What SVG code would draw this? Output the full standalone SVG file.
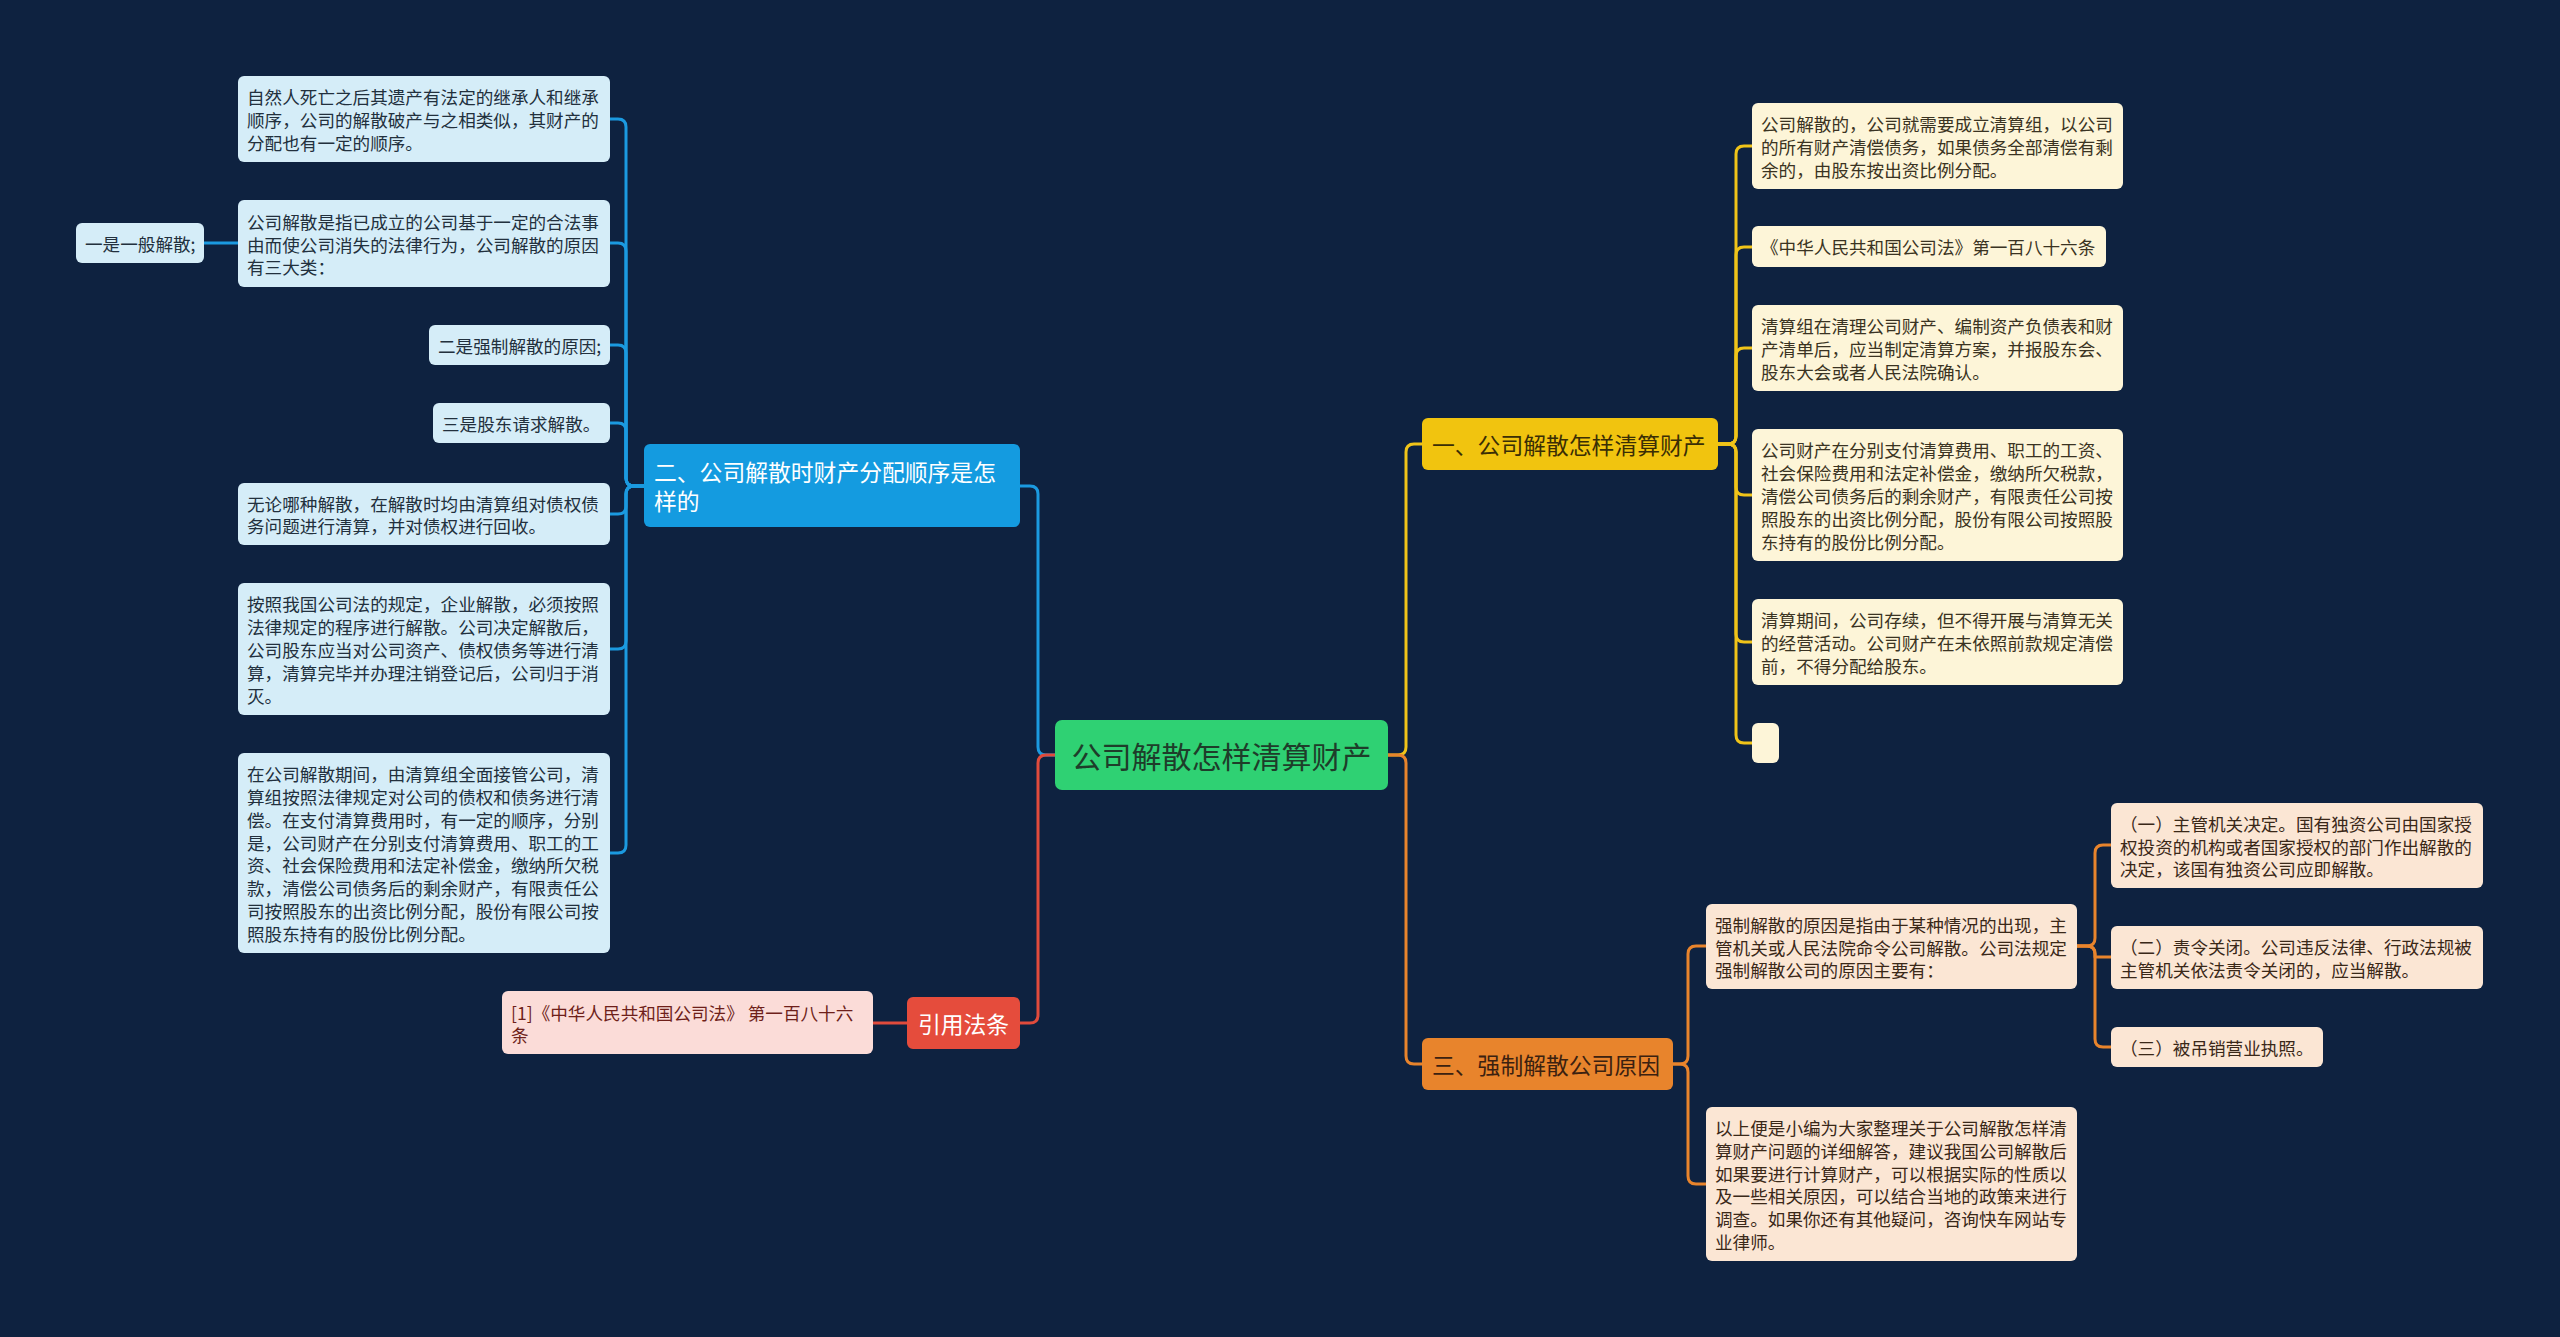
<svg xmlns="http://www.w3.org/2000/svg" width="2560" height="1337" viewBox="0 0 2560 1337">
<style>
text{font-family:"Noto Sans CJK SC","Noto Sans",sans-serif;dominant-baseline:central}
.t{font-size:17.6px}
.h{font-size:22.8px}
.c{fill:none;stroke-width:3;stroke-linecap:round;stroke-linejoin:round}
.cb{stroke:#1b9ae0}.cy{stroke:#f0c419}.co{stroke:#e8842c}.cr{stroke:#e04b3c}
.lb{fill:#d5edf8}.tb{fill:#22303d}
.ly{fill:#fdf5d8}.ty{fill:#3a3322}
.lo{fill:#fbe6d4}.to{fill:#3a2818}
.lr{fill:#fbdcd8}.tr{fill:#6e1f1a}
</style>
<rect width="2560" height="1337" fill="#0e2240"/>
<g id="connectors">
<path class="c cb" d="M1055 755H1046Q1038 755 1038 747V494Q1038 486 1030 486H1020"/>
<path class="c cr" d="M1055 755H1046Q1038 755 1038 763V1015Q1038 1023 1030 1023H1020"/>
<path class="c cy" d="M1388 755H1398Q1406 755 1406 747V452Q1406 444 1414 444H1422"/>
<path class="c co" d="M1388 755H1398Q1406 755 1406 763V1056Q1406 1064 1414 1064H1422"/>
<path class="c cr" d="M907 1023H873"/>
<path class="c cb" d="M644 486H634Q626 486 626 478V127Q626 119 618 119H610"/>
<path class="c cb" d="M644 486H634Q626 486 626 478V251Q626 243 618 243H610"/>
<path class="c cb" d="M238 243H204"/>
<path class="c cb" d="M644 486H634Q626 486 626 478V353Q626 345 618 345H610"/>
<path class="c cb" d="M644 486H634Q626 486 626 478V431Q626 423 618 423H610"/>
<path class="c cb" d="M644 486H634Q626 486 626 494V506Q626 514 618 514H610"/>
<path class="c cb" d="M644 486H634Q626 486 626 494V641Q626 649 618 649H610"/>
<path class="c cb" d="M644 486H634Q626 486 626 494V845Q626 853 618 853H610"/>
<path class="c cy" d="M1718 444H1728Q1736 444 1736 436V154Q1736 146 1744 146H1752"/>
<path class="c cy" d="M1718 444H1728Q1736 444 1736 436V255Q1736 247 1744 247H1752"/>
<path class="c cy" d="M1718 444H1728Q1736 444 1736 436V356Q1736 348 1744 348H1752"/>
<path class="c cy" d="M1718 444H1728Q1736 444 1736 452V487Q1736 495 1744 495H1752"/>
<path class="c cy" d="M1718 444H1728Q1736 444 1736 452V634Q1736 642 1744 642H1752"/>
<path class="c cy" d="M1718 444H1728Q1736 444 1736 452V735Q1736 743 1744 743H1752"/>
<path class="c co" d="M1673 1064H1680Q1688 1064 1688 1056V954Q1688 946 1696 946H1706"/>
<path class="c co" d="M1673 1064H1680Q1688 1064 1688 1072V1176Q1688 1184 1696 1184H1706"/>
<path class="c co" d="M2077 946H2087Q2095 946 2095 938V853Q2095 845 2103 845H2111"/>
<path class="c co" d="M2077 946H2087Q2095 946 2095 954V957Q2095 957 2103 957H2111"/>
<path class="c co" d="M2077 946H2087Q2095 946 2095 954V1039Q2095 1047 2103 1047H2111"/>
</g>
<g id="root">
<rect x="1055" y="720" width="333" height="70" rx="7" fill="#2fd173"/>
<text x="1221.5" y="755" text-anchor="middle" font-size="30" fill="#1e3d2a">公司解散怎样清算财产</text>
</g>
<g id="branch-blue">
<rect x="644" y="444" width="376" height="83" rx="6" fill="#149be0"/>
<text class="h" x="654" y="471" fill="#ffffff">二、公司解散时财产分配顺序是怎</text>
<text class="h" x="654" y="500" fill="#ffffff">样的</text>
</g>
<g id="leaf-b1">
<rect class="lb" x="238" y="76" width="372" height="86" rx="6"/>
<text class="t tb" x="247"><tspan x="247" y="96.2">自然人死亡之后其遗产有法定的继承人和继承</tspan><tspan x="247" y="119">顺序，公司的解散破产与之相类似，其财产的</tspan><tspan x="247" y="141.8">分配也有一定的顺序。</tspan></text>
</g>
<g id="leaf-b2">
<rect class="lb" x="238" y="200" width="372" height="87" rx="6"/>
<text class="t tb"><tspan x="247" y="220.7">公司解散是指已成立的公司基于一定的合法事</tspan><tspan x="247" y="243.5">由而使公司消失的法律行为，公司解散的原因</tspan><tspan x="247" y="266.3">有三大类：</tspan></text>
</g>
<g id="leaf-b0">
<rect class="lb" x="76" y="223" width="128" height="40" rx="6"/>
<text class="t tb" x="85" y="243">一是一般解散;</text>
</g>
<g id="leaf-b3">
<rect class="lb" x="429" y="325" width="181" height="40" rx="6"/>
<text class="t tb" x="438" y="345">二是强制解散的原因;</text>
</g>
<g id="leaf-b4">
<rect class="lb" x="433" y="403" width="177" height="40" rx="6"/>
<text class="t tb" x="442" y="423">三是股东请求解散。</text>
</g>
<g id="leaf-b5">
<rect class="lb" x="238" y="483" width="372" height="62" rx="6"/>
<text class="t tb"><tspan x="247" y="502.6">无论哪种解散，在解散时均由清算组对债权债</tspan><tspan x="247" y="525.4">务问题进行清算，并对债权进行回收。</tspan></text>
</g>
<g id="leaf-b6">
<rect class="lb" x="238" y="583" width="372" height="132" rx="6"/>
<text class="t tb"><tspan x="247" y="603.4">按照我国公司法的规定，企业解散，必须按照</tspan><tspan x="247" y="626.2">法律规定的程序进行解散。公司决定解散后，</tspan><tspan x="247" y="649">公司股东应当对公司资产、债权债务等进行清</tspan><tspan x="247" y="671.8">算，清算完毕并办理注销登记后，公司归于消</tspan><tspan x="247" y="694.6">灭。</tspan></text>
</g>
<g id="leaf-b7">
<rect class="lb" x="238" y="753" width="372" height="200" rx="6"/>
<text class="t tb"><tspan x="247" y="773.2">在公司解散期间，由清算组全面接管公司，清</tspan><tspan x="247" y="796">算组按照法律规定对公司的债权和债务进行清</tspan><tspan x="247" y="818.8">偿。在支付清算费用时，有一定的顺序，分别</tspan><tspan x="247" y="841.6">是，公司财产在分别支付清算费用、职工的工</tspan><tspan x="247" y="864.4">资、社会保险费用和法定补偿金，缴纳所欠税</tspan><tspan x="247" y="887.2">款，清偿公司债务后的剩余财产，有限责任公</tspan><tspan x="247" y="910">司按照股东的出资比例分配，股份有限公司按</tspan><tspan x="247" y="932.8">照股东持有的股份比例分配。</tspan></text>
</g>
<g id="branch-red">
<rect x="907" y="997" width="113" height="52" rx="6" fill="#e54c3c"/>
<text class="h" x="963.5" y="1023" text-anchor="middle" fill="#ffffff">引用法条</text>
</g>
<g id="leaf-r1">
<rect class="lr" x="502" y="991" width="371" height="63" rx="6"/>
<text class="t tr"><tspan x="511" y="1011.6">[1]《中华人民共和国公司法》 第一百八十六</tspan><tspan x="511" y="1034.4">条</tspan></text>
</g>
<g id="branch-yellow">
<rect x="1422" y="418" width="296" height="52" rx="6" fill="#f1c40f"/>
<text class="h" x="1432" y="444" fill="#3a2e05">一、公司解散怎样清算财产</text>
</g>
<g id="leaf-y1">
<rect class="ly" x="1752" y="103" width="371" height="86" rx="6"/>
<text class="t ty"><tspan x="1761" y="123.2">公司解散的，公司就需要成立清算组，以公司</tspan><tspan x="1761" y="146">的所有财产清偿债务，如果债务全部清偿有剩</tspan><tspan x="1761" y="168.8">余的，由股东按出资比例分配。</tspan></text>
</g>
<g id="leaf-y2">
<rect class="ly" x="1752" y="226" width="354" height="41" rx="6"/>
<text class="t ty" x="1761" y="246.5">《中华人民共和国公司法》第一百八十六条</text>
</g>
<g id="leaf-y3">
<rect class="ly" x="1752" y="305" width="371" height="86" rx="6"/>
<text class="t ty"><tspan x="1761" y="325.2">清算组在清理公司财产、编制资产负债表和财</tspan><tspan x="1761" y="348">产清单后，应当制定清算方案，并报股东会、</tspan><tspan x="1761" y="370.8">股东大会或者人民法院确认。</tspan></text>
</g>
<g id="leaf-y4">
<rect class="ly" x="1752" y="429" width="371" height="132" rx="6"/>
<text class="t ty"><tspan x="1761" y="449.4">公司财产在分别支付清算费用、职工的工资、</tspan><tspan x="1761" y="472.2">社会保险费用和法定补偿金，缴纳所欠税款，</tspan><tspan x="1761" y="495">清偿公司债务后的剩余财产，有限责任公司按</tspan><tspan x="1761" y="517.8">照股东的出资比例分配，股份有限公司按照股</tspan><tspan x="1761" y="540.6">东持有的股份比例分配。</tspan></text>
</g>
<g id="leaf-y5">
<rect class="ly" x="1752" y="599" width="371" height="86" rx="6"/>
<text class="t ty"><tspan x="1761" y="619.2">清算期间，公司存续，但不得开展与清算无关</tspan><tspan x="1761" y="642">的经营活动。公司财产在未依照前款规定清偿</tspan><tspan x="1761" y="664.8">前，不得分配给股东。</tspan></text>
</g>
<g id="leaf-y6">
<rect class="ly" x="1752" y="723" width="27" height="40" rx="6"/>
</g>
<g id="branch-orange">
<rect x="1422" y="1038" width="251" height="52" rx="6" fill="#e8842c"/>
<text class="h" x="1432" y="1064" fill="#3b2110">三、强制解散公司原因</text>
</g>
<g id="leaf-o1">
<rect class="lo" x="1706" y="904" width="371" height="85" rx="6"/>
<text class="t to"><tspan x="1715" y="923.7">强制解散的原因是指由于某种情况的出现，主</tspan><tspan x="1715" y="946.5">管机关或人民法院命令公司解散。公司法规定</tspan><tspan x="1715" y="969.3">强制解散公司的原因主要有：</tspan></text>
</g>
<g id="leaf-o2">
<rect class="lo" x="1706" y="1107" width="371" height="154" rx="6"/>
<text class="t to"><tspan x="1715" y="1127">以上便是小编为大家整理关于公司解散怎样清</tspan><tspan x="1715" y="1149.8">算财产问题的详细解答，建议我国公司解散后</tspan><tspan x="1715" y="1172.6">如果要进行计算财产，可以根据实际的性质以</tspan><tspan x="1715" y="1195.4">及一些相关原因，可以结合当地的政策来进行</tspan><tspan x="1715" y="1218.2">调查。如果你还有其他疑问，咨询快车网站专</tspan><tspan x="1715" y="1241">业律师。</tspan></text>
</g>
<g id="leaf-o1a">
<rect class="lo" x="2111" y="803" width="372" height="85" rx="6"/>
<text class="t to"><tspan x="2120" y="822.7">（一）主管机关决定。国有独资公司由国家授</tspan><tspan x="2120" y="845.5">权投资的机构或者国家授权的部门作出解散的</tspan><tspan x="2120" y="868.3">决定，该国有独资公司应即解散。</tspan></text>
</g>
<g id="leaf-o1b">
<rect class="lo" x="2111" y="926" width="372" height="63" rx="6"/>
<text class="t to"><tspan x="2120" y="946.1">（二）责令关闭。公司违反法律、行政法规被</tspan><tspan x="2120" y="968.9">主管机关依法责令关闭的，应当解散。</tspan></text>
</g>
<g id="leaf-o1c">
<rect class="lo" x="2111" y="1027" width="212" height="40" rx="6"/>
<text class="t to" x="2120" y="1047">（三）被吊销营业执照。</text>
</g>
</svg>
